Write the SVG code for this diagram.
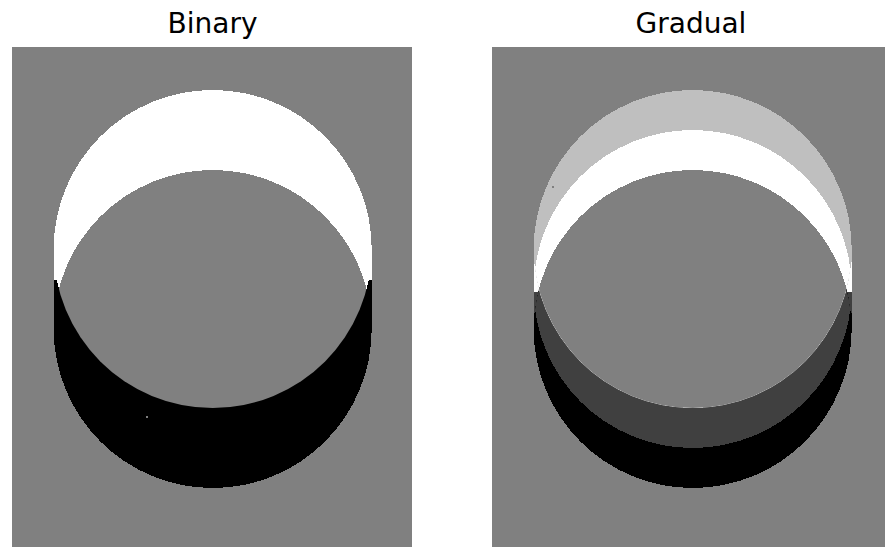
<svg xmlns="http://www.w3.org/2000/svg" width="885" height="547" viewBox="0 0 885 547">
  <style>
    .title { font-family: "DejaVu Sans", sans-serif; font-size: 28px; fill: #000; text-anchor: middle; }
    .gray { fill: #808080; }
    .light { fill: #bfbfbf; }
    .white { fill: #ffffff; }
    .dark { fill: #404040; }
    .black { fill: #000000; }
    circle, rect { shape-rendering: crispEdges; }
  </style>
  <defs>
    <clipPath id="L1"><circle cx="212.7" cy="249" r="159"/></clipPath>
    <clipPath id="R1"><circle cx="692.7" cy="249" r="159"/></clipPath>
    <clipPath id="R3"><circle cx="692.7" cy="329" r="159"/></clipPath>
    <clipPath id="Rpanel"><rect x="492" y="47" width="400" height="500"/></clipPath>
  </defs>
  <rect width="885" height="547" fill="#ffffff"/>

  <g id="binary">
    <text class="title" x="212.5" y="33">Binary</text>
    <rect class="gray" x="12" y="47" width="400" height="500"/>
    <rect class="white" x="53.7" y="249" width="318" height="31"/>
    <rect class="black" x="53.7" y="280" width="318" height="49"/>
    <circle class="white" cx="212.7" cy="249" r="159"/>
    <circle class="black" cx="212.7" cy="329" r="159"/>
    <circle class="gray" cx="212.7" cy="329" r="159" clip-path="url(#L1)"/>
    <rect x="146" y="416" width="2" height="2" fill="#7f7f7f"/>
  </g>

  <g id="gradual">
    <text class="title" x="691" y="33">Gradual</text>
    <g clip-path="url(#Rpanel)">
      <rect class="gray" x="492" y="47" width="400" height="500"/>
      <rect class="light" x="533.7" y="249" width="318" height="13"/>
      <rect class="white" x="533.7" y="262" width="318" height="30"/>
      <rect class="dark" x="533.7" y="292" width="318" height="21"/>
      <rect class="black" x="533.7" y="313" width="318" height="16"/>
      <circle class="black" cx="692.7" cy="329" r="159"/>
      <circle class="dark" cx="692.7" cy="289" r="159" clip-path="url(#R3)"/>
      <circle class="light" cx="692.7" cy="249" r="159"/>
      <circle class="white" cx="692.7" cy="289" r="159" clip-path="url(#R1)"/>
      <circle class="gray" cx="692.7" cy="329" r="159" clip-path="url(#R1)"/>
      <rect x="552" y="186" width="2" height="2" fill="#7f7f7f"/>
    </g>
  </g>
</svg>
